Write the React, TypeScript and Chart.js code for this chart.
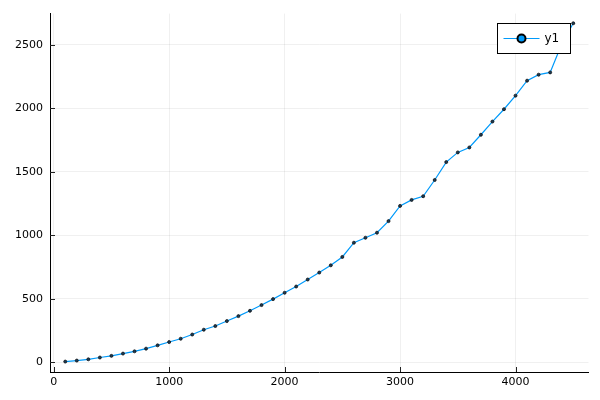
import React, { useEffect, useRef } from "react";
import { Chart, registerables } from "chart.js";

Chart.register(...registerables);

const xValues = [100, 200, 300, 400, 500, 600, 700, 800, 900, 1000, 1100, 1200, 1300, 1400, 1500, 1600, 1700, 1800, 1900, 2000, 2100, 2200, 2300, 2400, 2500, 2600, 2700, 2800, 2900, 3000, 3100, 3200, 3300, 3400, 3500, 3600, 3700, 3800, 3900, 4000, 4100, 4200, 4300, 4400, 4500];
const yValues = [5, 13, 23, 37, 50, 68, 86, 107, 133, 159, 185, 218, 256, 285, 324, 363, 405, 450, 497, 547, 596, 651, 706, 763, 829, 941, 980, 1020, 1111, 1231, 1278, 1307, 1435, 1576, 1652, 1691, 1791, 1895, 1992, 2099, 2217, 2264, 2282, 2505, 2669];
const xTicks = [0, 1000, 2000, 3000, 4000];
const yTicks = [0, 500, 1000, 1500, 2000, 2500];
const seriesName = "y1";

const LINE = "#009afa";
const FONT = "'DejaVu Sans', sans-serif";

const overlay = {
  id: "overlay",
  afterDraw(chart: any) {
    const ctx = chart.ctx;
    const ca = chart.chartArea;
    const xs = chart.scales.x;
    const ys = chart.scales.y;
    ctx.save();
    ctx.strokeStyle = "#222";
    ctx.lineWidth = 1;
    xTicks.forEach((t) => {
      const px = Math.round(xs.getPixelForValue(t)) + 0.5;
      ctx.beginPath();
      ctx.moveTo(px, ca.bottom);
      ctx.lineTo(px, ca.bottom - 5);
      ctx.stroke();
    });
    yTicks.forEach((t) => {
      const py = Math.round(ys.getPixelForValue(t)) + 0.5;
      ctx.beginPath();
      ctx.moveTo(ca.left, py);
      ctx.lineTo(ca.left + 5, py);
      ctx.stroke();
    });
    // legend
    const lx = 497.5, ly = 23.5, lw = 73, lh = 30;
    ctx.fillStyle = "#fff";
    ctx.fillRect(lx, ly, lw, lh);
    ctx.strokeStyle = "#000";
    ctx.lineWidth = 1;
    ctx.strokeRect(lx, ly, lw, lh);
    ctx.strokeStyle = LINE;
    ctx.lineWidth = 1.2;
    ctx.beginPath();
    ctx.moveTo(lx + 6, ly + 15);
    ctx.lineTo(lx + 42, ly + 15);
    ctx.stroke();
    ctx.beginPath();
    ctx.arc(lx + 24, ly + 15, 4, 0, Math.PI * 2);
    ctx.fillStyle = LINE;
    ctx.fill();
    ctx.lineWidth = 2;
    ctx.strokeStyle = "#000";
    ctx.stroke();
    ctx.fillStyle = "#000";
    ctx.font = `12px ${FONT}`;
    ctx.textBaseline = "middle";
    ctx.textAlign = "left";
    ctx.fillText(seriesName, lx + 47, ly + 15.5);
    ctx.restore();
  },
};

export default function App() {
  const ref = useRef<HTMLCanvasElement>(null);
  useEffect(() => {
    document.body.style.margin = "0";
    const chart = new Chart(ref.current!, {
      type: "line",
      data: {
        datasets: [
          {
            label: seriesName,
            data: xValues.map((x, i) => ({ x, y: yValues[i] })),
            borderColor: LINE,
            borderWidth: 1.2,
            pointRadius: 1.5,
            pointBackgroundColor: "#1a3a55",
            pointBorderColor: "#111",
            pointBorderWidth: 0.8,
            tension: 0,
          },
        ],
      },
      options: {
        animation: false,
        responsive: false,
        layout: { padding: { top: 12, right: 11.5, left: 0, bottom: 0 } },
        plugins: { legend: { display: false }, tooltip: { enabled: false } },
        scales: {
          x: {
            type: "linear",
            min: -32,
            max: 4632,
            afterBuildTicks: (s: any) => {
              s.ticks = xTicks.map((v) => ({ value: v }));
            },
            afterFit: (s: any) => {
              s.height = 28;
            },
            ticks: {
              color: "#000",
              font: { family: FONT, size: 11 },
              padding: 4,
              maxRotation: 0,
              callback: (v: any) => String(v),
            },
            grid: { color: "rgba(0,0,0,0.06)", lineWidth: 1, drawTicks: false },
            border: { color: "#000", width: 1 },
          },
          y: {
            type: "linear",
            min: -77,
            max: 2745,
            afterBuildTicks: (s: any) => {
              s.ticks = yTicks.map((v) => ({ value: v }));
            },
            afterFit: (s: any) => {
              s.width = 50;
            },
            ticks: {
              color: "#000",
              font: { family: FONT, size: 11 },
              padding: 7,
              callback: (v: any) => String(v),
            },
            grid: { color: "rgba(0,0,0,0.06)", lineWidth: 1, drawTicks: false },
            border: { color: "#000", width: 1 },
          },
        },
      },
      plugins: [overlay],
    });
    return () => chart.destroy();
  }, []);
  return <canvas ref={ref} width={600} height={400} style={{ display: "block" }} />;
}
